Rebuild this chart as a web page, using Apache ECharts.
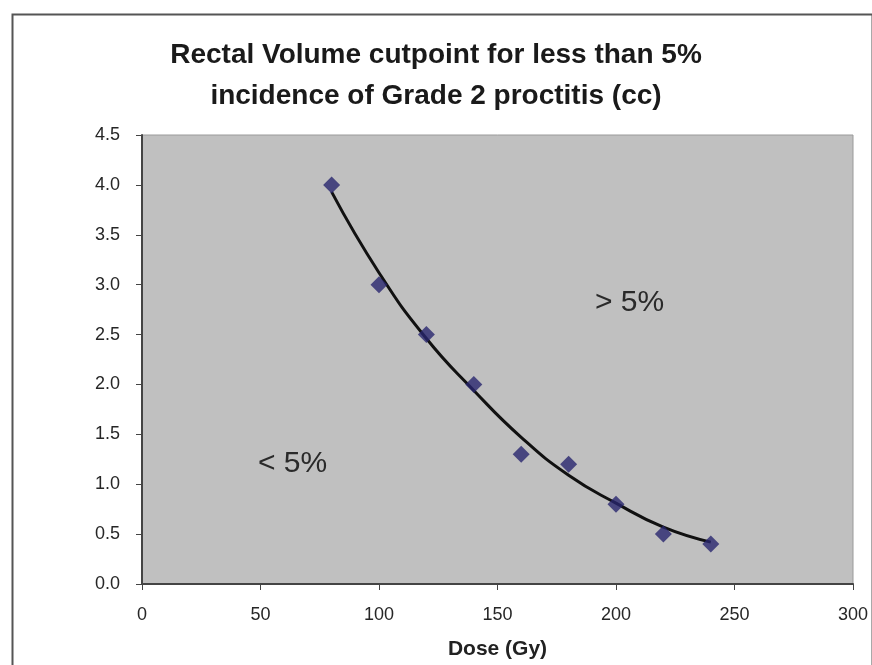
<!DOCTYPE html>
<html>
<head>
<meta charset="utf-8">
<script src="https://cdn.jsdelivr.net/npm/echarts@6/dist/echarts.min.js"></script>
<style>
html,body{margin:0;padding:0;background:#fff;}
#chart{width:872px;height:665px;}
</style>
</head>
<body>
<div id="chart"></div>
<script>
const titleLines = ["Rectal Volume cutpoint for less than 5%", "incidence of Grade 2 proctitis (cc)"];
const xAxisName = "Dose (Gy)";
const doseValues = [80, 100, 120, 140, 160, 180, 200, 220, 240];
const volumeValues = [4.0, 3.0, 2.5, 2.0, 1.3, 1.2, 0.8, 0.5, 0.4];
const trendDose = [80, 100, 120, 140, 160, 180, 200, 220, 240];
const trendVolume = [3.93, 3.12, 2.46, 1.94, 1.47, 1.09, 0.81, 0.57, 0.42];
const regionLabels = ["< 5%", "> 5%"];

const chart = echarts.init(document.getElementById('chart'), null, {renderer: 'canvas'});
const font = 'Liberation Sans, Arial, sans-serif';
chart.setOption({
  backgroundColor: '#ffffff',
  animation: false,
  title: {
    text: titleLines.join('\n'),
    left: 'center',
    top: 30,
    textStyle: {fontFamily: font, fontSize: 28, fontWeight: 'bold', color: '#1a1a1a', lineHeight: 41}
  },
  grid: {left: 142, top: 135, right: 19, bottom: 81, show: true, backgroundColor: '#c0c0c0', borderColor: '#9a9a9a', borderWidth: 1},
  xAxis: {
    type: 'value', min: 0, max: 300, interval: 50,
    name: xAxisName, nameLocation: 'middle', nameGap: 55,
    nameTextStyle: {fontFamily: font, fontSize: 21, fontWeight: 'bold', color: '#222'},
    axisLine: {show: true, lineStyle: {color: '#444', width: 2}},
    axisTick: {show: true, length: 6, lineStyle: {color: '#444'}},
    axisLabel: {fontFamily: font, fontSize: 18, color: '#262626', margin: 22},
    splitLine: {show: false}
  },
  yAxis: {
    type: 'value', min: 0, max: 4.5, interval: 0.5,
    axisLine: {show: true, lineStyle: {color: '#444', width: 2}},
    axisTick: {show: true, length: 6, lineStyle: {color: '#444'}},
    axisLabel: {fontFamily: font, fontSize: 18, color: '#262626', margin: 22, formatter: v => v.toFixed(1)},
    splitLine: {show: false}
  },
  graphic: [
    {type: 'rect', left: 10, top: 12, shape: {width: 860, height: 700}, style: {fill: 'none', stroke: '#555', lineWidth: 2}, silent: true},
    {type: 'text', left: 258, top: 449, style: {text: regionLabels[0], fontFamily: font, fontSize: 30, fill: '#2a2a2a'}},
    {type: 'text', left: 595, top: 288, style: {text: regionLabels[1], fontFamily: font, fontSize: 30, fill: '#2a2a2a'}}
  ],
  series: [
    {
      type: 'line', smooth: true, showSymbol: false,
      data: trendDose.map((d, i) => [d, trendVolume[i]]),
      lineStyle: {color: '#111', width: 3},
      z: 2
    },
    {
      type: 'scatter', symbol: 'diamond', symbolSize: 17,
      data: doseValues.map((d, i) => [d, volumeValues[i]]),
      itemStyle: {color: '#28256e'},
      z: 3
    }
  ]
});
</script>
</body>
</html>
